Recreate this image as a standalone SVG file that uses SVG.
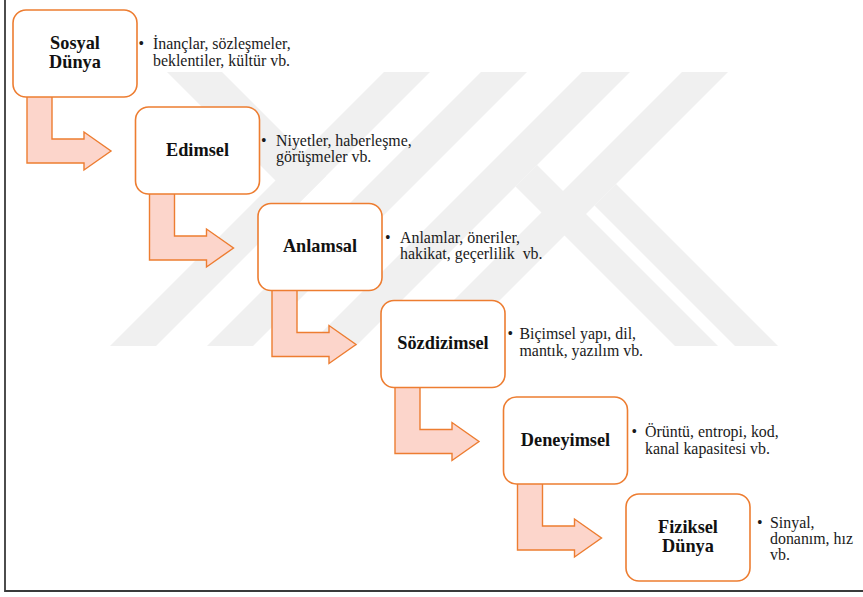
<svg xmlns="http://www.w3.org/2000/svg" xmlns:xlink="http://www.w3.org/1999/xlink" width="863" height="597" viewBox="0 0 863 597">
  <style>
    .wm { fill: #f0f0f0; }
    .box { fill: #ffffff; stroke: #ED7D31; stroke-width: 1.6; }
    .arr { fill: #FCD5CB; stroke: #ED7D31; stroke-width: 1.4; stroke-linejoin: miter; }
    .lbl { font-weight: bold; font-size: 18.3px; fill: #111111; text-anchor: middle; }
    .txt { font-size: 15.9px; fill: #1a1a1a; white-space: pre; }
    .frame { fill: none; stroke: #3a3a3a; stroke-width: 1.8; }
  </style>
  <defs>
    <path id="bend" d="M14,-1 L39,-1 L39,42 L71,42 L71,35 L98,54 L71,73 L71,66 L14,66 Z"/>
  </defs>
  <rect x="0" y="0" width="863" height="597" fill="#ffffff"/>

  <g id="watermark">
    <polygon class="wm" points="167,72 222,72 326,176 298.5,203.5"/>
    <polygon class="wm" points="384,72 430,72 156,346 110,346"/>
    <polygon class="wm" points="481,72 527,72 253,346 207,346"/>
    <polygon class="wm" points="582,72 630,72 356,346 308,346"/>
    <polygon class="wm" points="682,72 728,72 454,346 408,346"/>
    <polygon class="wm" points="616,184 778,346 735,346 594.5,205.5"/>
    <polygon class="wm" points="537,165 718,346 675,346 515.5,186.5"/>
  </g>

  <g id="frame">
    <path class="frame" d="M5,0 L5,591 L863,591"/>
  </g>

  <g id="connectors">
    <use xlink:href="#bend" href="#bend" class="arr" transform="translate(13,97)"/>
    <use xlink:href="#bend" href="#bend" class="arr" transform="translate(135.5,194)"/>
    <use xlink:href="#bend" href="#bend" class="arr" transform="translate(258,290.5)"/>
    <use xlink:href="#bend" href="#bend" class="arr" transform="translate(381,387.5)"/>
    <use xlink:href="#bend" href="#bend" class="arr" transform="translate(503.5,484)"/>
  </g>

  <g font-family="'Liberation Serif', 'DejaVu Serif', serif">
  <g id="node-sosyal" transform="translate(13,10)">
    <rect class="box" x="0" y="0" width="124" height="87" rx="13" ry="13"/>
    <text class="lbl" x="62" y="39">Sosyal</text>
    <text class="lbl" x="62" y="58">Dünya</text>
    <text class="txt" x="125.5" y="39">•</text>
    <text class="txt" x="140" y="39">İnançlar, sözleşmeler,</text>
    <text class="txt" x="140" y="55.5">beklentiler, kültür vb.</text>
  </g>

  <g id="node-edimsel" transform="translate(135.5,107)">
    <rect class="box" x="0" y="0" width="124" height="87" rx="13" ry="13"/>
    <text class="lbl" x="62" y="48.5">Edimsel</text>
    <text class="txt" x="125.5" y="38.5">•</text>
    <text class="txt" x="140.5" y="38.5">Niyetler, haberleşme,</text>
    <text class="txt" x="140.5" y="55">görüşmeler vb.</text>
  </g>

  <g id="node-anlamsal" transform="translate(258,203.5)">
    <rect class="box" x="0" y="0" width="124" height="87" rx="13" ry="13"/>
    <text class="lbl" x="62" y="48.5">Anlamsal</text>
    <text class="txt" x="127" y="39">•</text>
    <text class="txt" x="142" y="39">Anlamlar, öneriler,</text>
    <text class="txt" x="142" y="55.5">hakikat, geçerlilik  vb.</text>
  </g>

  <g id="node-sozdizimsel" transform="translate(381,300.5)">
    <rect class="box" x="0" y="0" width="124" height="87" rx="13" ry="13"/>
    <text class="lbl" x="62" y="48.5">Sözdizimsel</text>
    <text class="txt" x="126.5" y="38.5">•</text>
    <text class="txt" x="138.5" y="38.5">Biçimsel yapı, dil,</text>
    <text class="txt" x="138.5" y="55">mantık, yazılım vb.</text>
  </g>

  <g id="node-deneyimsel" transform="translate(503.5,397)">
    <rect class="box" x="0" y="0" width="124" height="87" rx="13" ry="13"/>
    <text class="lbl" x="62" y="48.5">Deneyimsel</text>
    <text class="txt" x="128" y="40">•</text>
    <text class="txt" x="141.5" y="40">Örüntü, entropi, kod,</text>
    <text class="txt" x="141.5" y="56.5">kanal kapasitesi vb.</text>
  </g>

  <g id="node-fiziksel" transform="translate(626,494)">
    <rect class="box" x="0" y="0" width="124" height="87" rx="13" ry="13"/>
    <text class="lbl" x="62" y="39">Fiziksel</text>
    <text class="lbl" x="62" y="58">Dünya</text>
    <text class="txt" x="131" y="34">•</text>
    <text class="txt" x="144" y="34">Sinyal,</text>
    <text class="txt" x="144" y="50">donanım, hız</text>
    <text class="txt" x="144" y="66">vb.</text>
  </g>
  </g>
</svg>
